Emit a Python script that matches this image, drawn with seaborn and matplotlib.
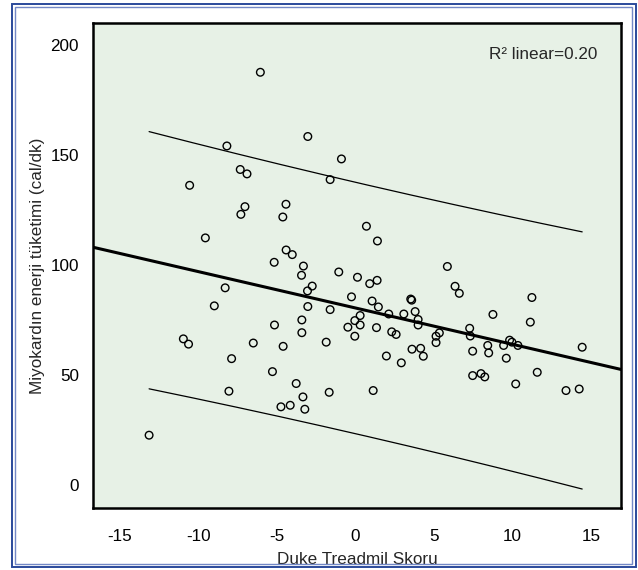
import numpy as np
import pandas as pd
import matplotlib
matplotlib.use("Agg")
import matplotlib.pyplot as plt
from matplotlib.patches import Rectangle
import seaborn as sns

# Duke treadmill score vs. myocardial energy expenditure
duke_score = [
    -6.05, -3.03, -8.18, -7.33, -6.90, -10.55, -4.42, -7.03, -7.29, -4.62,
    -9.55, -4.41, -4.02, -5.17, -3.31, -3.43, -2.75, -8.29, -3.05, -8.98,
    -3.03, -5.15, -3.41, -3.41, -10.95, -10.62, -6.50, -4.60, -7.88, -5.28,
    -3.77, -8.05, -3.34, -4.74, -4.15, -3.22, -13.13, -0.89, -1.61, 0.70,
    1.40, -1.06, 0.13, 0.91, 1.38, 5.85, 6.34, 6.61, -0.25, 3.52,
    3.58, 11.23, -1.61, 1.06, 1.46, 0.30, 2.12, 3.08, 3.80, 3.99,
    3.99, -0.04, -0.48, 0.30, -0.04, 1.34, 2.31, 2.59, -1.86, 1.97,
    2.92, 3.60, 4.15, 4.32, 5.13, 5.34, 5.13, 7.27, 7.31, 8.75,
    7.46, 8.42, 8.48, 9.43, 9.81, 9.96, 10.34, 9.60, 11.13, 7.46,
    7.99, 8.23, 10.20, 11.57, 13.40, 14.24, 14.43, -1.67, 1.13,
]
energy = [
    187.6, 158.4, 154.1, 143.4, 141.4, 136.2, 127.6, 126.5, 123.0, 121.8,
    112.3, 106.8, 104.7, 101.2, 99.5, 95.3, 90.4, 89.6, 88.2, 81.4,
    81.1, 72.7, 75.0, 69.2, 66.4, 64.0, 64.5, 63.0, 57.4, 51.5,
    46.1, 42.6, 40.0, 35.5, 36.2, 34.4, 22.6, 148.2, 138.8, 117.6,
    110.9, 96.8, 94.4, 91.5, 93.0, 99.3, 90.3, 87.1, 85.5, 84.5,
    84.0, 85.2, 79.7, 83.6, 80.9, 77.0, 77.7, 77.7, 78.8, 75.2,
    72.7, 74.7, 71.7, 72.7, 67.6, 71.5, 69.6, 68.4, 64.9, 58.6,
    55.5, 61.7, 62.1, 58.5, 67.6, 69.1, 64.7, 71.2, 67.7, 77.5,
    60.8, 63.4, 60.0, 63.4, 65.8, 64.9, 63.4, 57.6, 74.0, 49.7,
    50.6, 49.1, 45.9, 51.2, 42.9, 43.6, 62.6, 42.1, 42.9,
]
x_ticks = [-15, -10, -5, 0, 5, 10, 15]
y_ticks = [0, 50, 100, 150, 200]
r2_label = "R² linear=0.20"
x_label = "Duke Treadmil Skoru"
y_label = "Miyokardın enerji tüketimi (cal/dk)"
t_crit = 1.985  # two-sided 95% t quantile, df = n - 2

df = pd.DataFrame({"duke": duke_score, "energy": energy})

sns.set_style("white")
plt.rcParams["font.family"] = ["Liberation Sans", "DejaVu Sans"]
FS = 12.3

W, H = 638, 570
fig = plt.figure(figsize=(W / 100, H / 100), dpi=100)
fig.patch.set_facecolor("white")
ax = fig.add_axes([93 / W, 1 - 508 / H, (621 - 93) / W, (508 - 23) / H])
ax.set_facecolor("#e7f1e6")

xlim = (-16.7, 16.9)
ylim = (-10.5, 210)
ax.set_xlim(xlim)
ax.set_ylim(ylim)

# fitted line across the full axis
sns.regplot(data=df, x="duke", y="energy", scatter=False, ci=None,
            truncate=False, color="black", line_kws={"linewidth": 2.2}, ax=ax)

# 95% prediction interval over the observed range
x = df["duke"].to_numpy()
y = df["energy"].to_numpy()
n = len(x)
slope, intercept = np.polyfit(x, y, 1)
resid = y - (slope * x + intercept)
s = np.sqrt(np.sum(resid ** 2) / (n - 2))
sxx = np.sum((x - x.mean()) ** 2)
xs = np.linspace(x.min(), x.max(), 200)
fit = slope * xs + intercept
half = t_crit * s * np.sqrt(1 + 1 / n + (xs - x.mean()) ** 2 / sxx)
pi = pd.DataFrame({"x": xs, "lo": fit - half, "hi": fit + half})
sns.lineplot(data=pi, x="x", y="hi", color="black", linewidth=0.9, ax=ax)
sns.lineplot(data=pi, x="x", y="lo", color="black", linewidth=0.9, ax=ax)

sns.scatterplot(data=df, x="duke", y="energy", s=30, facecolor="none",
                edgecolor="black", linewidth=1.0, ax=ax, zorder=3)

ax.set_xlim(xlim)
ax.set_ylim(ylim)
ax.set_xticks(x_ticks)
ax.set_yticks(y_ticks)
ax.set_xticklabels([str(v) for v in x_ticks])
ax.set_yticklabels([str(v) for v in y_ticks])
ax.tick_params(axis="both", which="major", direction="out", length=7,
               width=1.8, color="black", labelsize=FS, labelcolor="black")
ax.tick_params(axis="x", pad=8)
ax.tick_params(axis="y", pad=3)
for sp in ax.spines.values():
    sp.set_visible(True)
    sp.set_color("black")
    sp.set_linewidth(1.8)

ax.set_xlabel(x_label, fontsize=FS, labelpad=6)
ax.set_ylabel(y_label, fontsize=FS, labelpad=4)
ax.text(0.955, 0.935, r2_label, transform=ax.transAxes, ha="right",
        va="center", fontsize=FS)

# double blue frame around the figure
def frame(l, t, r, b, color, lw):
    fig.patches.append(Rectangle((l / W, 1 - b / H), (r - l) / W, (b - t) / H,
                                 transform=fig.transFigure, fill=False,
                                 edgecolor=color, linewidth=lw))

frame(12, 3.5, 635.5, 567, "#2b4a9b", 1.4)
frame(15.5, 7, 632, 563.5, "#7388c6", 1.0)

fig.savefig("out.png", dpi=100, facecolor="white")
